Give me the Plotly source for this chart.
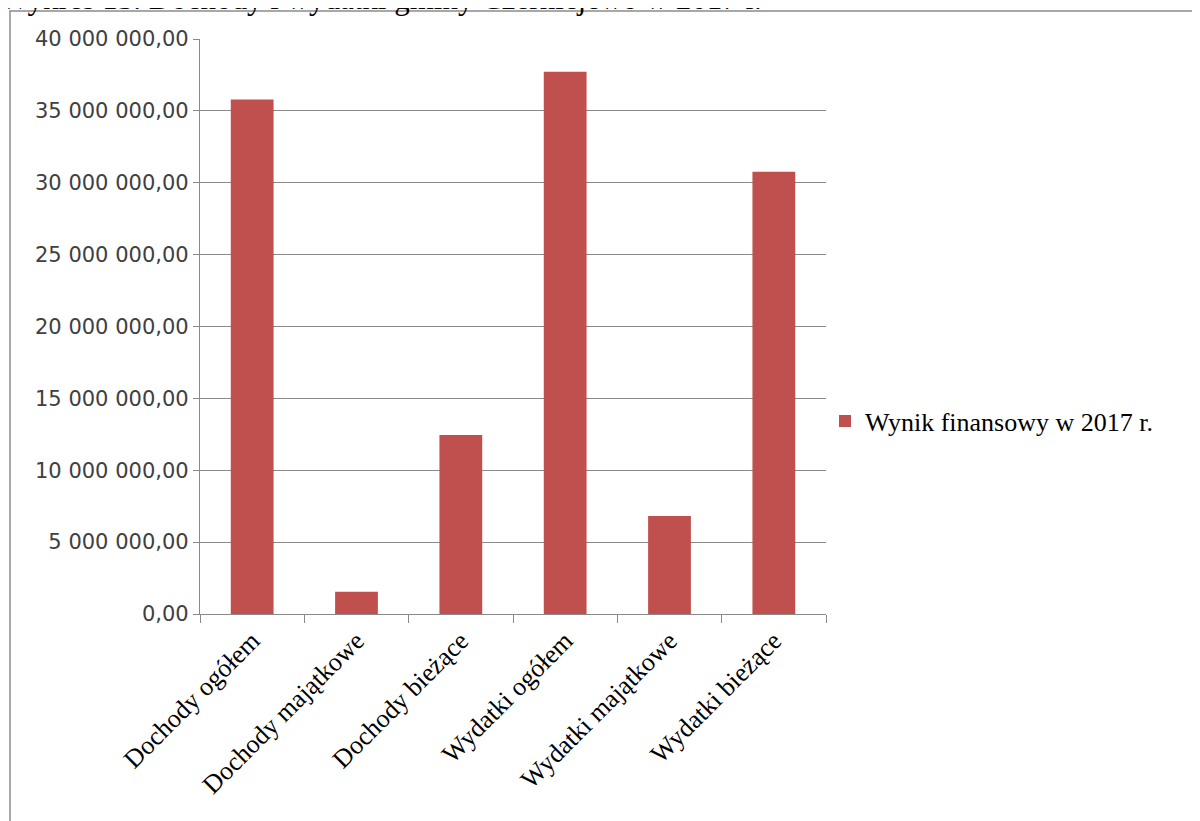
import plotly.graph_objects as go

categories = ["Dochody ogółem", "Dochody majątkowe", "Dochody bieżące",
              "Wydatki ogółem", "Wydatki majątkowe", "Wydatki bieżące"]
values = [35_800_000, 1_550_000, 12_450_000, 37_730_000, 6_820_000, 30_770_000]
series_name = "Wynik finansowy w 2017 r."
tick_vals = [0, 5_000_000, 10_000_000, 15_000_000, 20_000_000,
             25_000_000, 30_000_000, 35_000_000, 40_000_000]
tick_text = ["0,00", "5 000 000,00", "10 000 000,00", "15 000 000,00", "20 000 000,00",
             "25 000 000,00", "30 000 000,00", "35 000 000,00", "40 000 000,00"]
title_text = "Wykres 13. Dochody i wydatki gminy Czernicjewo w 2017 r."

OFF = 8  # page body margin
W, H = 1200 - OFF, 821 - OFF
# target page-pixel positions of the plot area
L, R, T, B = 200 - OFF, 826 - OFF, 39 - OFF, 614 - OFF
pw, ph = R - L, B - T

def px_x(p):
    return (p - OFF - L) / pw

def px_y(p):
    return (B - (p - OFF)) / ph

serif = "Liberation Serif, Times New Roman, serif"
sans = "DejaVu Sans, Verdana, sans-serif"
grid_col = "#8a8a8a"

fig = go.Figure()
fig.add_trace(go.Bar(
    x=categories, y=values, name=series_name,
    marker=dict(color="#C0504D", line=dict(width=0)),
    width=0.41, showlegend=True,
))

fig.update_layout(
    width=W, height=H,
    margin=dict(l=L, r=W - R, t=T, b=H - B, autoexpand=False),
    paper_bgcolor="white", plot_bgcolor="white",
    showlegend=True,
    legend=dict(x=px_x(825), y=px_y(421), xanchor="left", yanchor="middle",
                font=dict(family=serif, size=26, color="#000000"),
                bgcolor="rgba(0,0,0,0)", itemwidth=30),
)
fig.update_yaxes(
    range=[0, 40_000_000], tickvals=tick_vals, ticktext=tick_text,
    showgrid=True, gridcolor=grid_col, gridwidth=1.3,
    showline=True, linecolor=grid_col, linewidth=1.3,
    ticks="outside", ticklen=6, tickcolor=grid_col, tickwidth=1.3,
    tickfont=dict(family=sans, size=21, color="#404040"),
    zeroline=False, fixedrange=True,
)
fig.update_xaxes(
    showline=True, linecolor=grid_col, linewidth=1.3,
    ticks="outside", ticklen=8, tickcolor=grid_col, tickwidth=1.3,
    tickson="boundaries", tickangle=-45,
    tickfont=dict(family=serif, size=26, color="#000000"),
    showgrid=False, fixedrange=True,
)

# outer chart border
fig.add_shape(type="rect", xref="paper", yref="paper",
              x0=px_x(10), x1=px_x(1215), y0=px_y(840), y1=px_y(11),
              line=dict(color="#8c8c8c", width=1.5), fillcolor="rgba(0,0,0,0)",
              layer="below")

# cropped caption at the top
fig.add_annotation(text=title_text, xref="paper", yref="paper",
                   x=px_x(-2), y=px_y(18), xanchor="left", yanchor="bottom",
                   showarrow=False, font=dict(family=serif, size=31, color="#000000"))

fig.write_html("out.html")
